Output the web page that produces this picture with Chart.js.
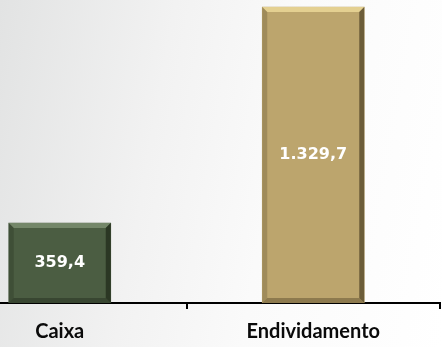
<!DOCTYPE html>
<html>
<head>
<meta charset="utf-8">
<script src="https://cdn.jsdelivr.net/npm/chart.js@4/dist/chart.umd.min.js"></script>
<style>
  html, body { margin: 0; padding: 0; }
  body { width: 442px; height: 347px; overflow: hidden; position: relative;
         background: linear-gradient(100deg, #e2e3e3 0%, #f2f2f2 35%, #fafafa 60%, #ffffff 100%); }
  /* first category starts left of the visible frame, as in the source slide */
  #c { position: absolute; left: -67px; top: 0; }
</style>
</head>
<body>
<canvas id="c" width="509" height="357"></canvas>
<script>
// Caixa vs Endividamento (R$ mi)
const categories = ["Caixa", "Endividamento"];
const values = [359.4, 1329.7];
const valueLabels = ["359,4", "1.329,7"];
const barColors = ["#4b5d42", "#bca56d"];
const edgeLight = ["#7e9273", "#eedb9a"];
const edgeDark = ["#26301f", "#5e5030"];

// value text inside each bar + a simple bevel on the bar edges
const barDecor = {
  id: "barDecor",
  afterDatasetsDraw(chart) {
    const ctx = chart.ctx;
    const meta = chart.getDatasetMeta(0);
    meta.data.forEach((bar, i) => {
      const { x, y, width, base } = bar.getProps(["x", "y", "width", "base"], true);
      const l = x - width / 2, r = x + width / 2, b = 5;
      ctx.save();
      ctx.fillStyle = edgeLight[i];
      ctx.globalAlpha = 0.8;
      ctx.beginPath();
      ctx.moveTo(l, y); ctx.lineTo(r, y); ctx.lineTo(r - b, y + b); ctx.lineTo(l + b, y + b);
      ctx.closePath(); ctx.fill();
      ctx.fillStyle = edgeDark[i];
      ctx.globalAlpha = 0.85;
      ctx.beginPath();
      ctx.moveTo(r, y); ctx.lineTo(r, base); ctx.lineTo(r - b, base - b); ctx.lineTo(r - b, y + b);
      ctx.closePath(); ctx.fill();
      ctx.globalAlpha = 0.5;
      ctx.beginPath();
      ctx.moveTo(l, base); ctx.lineTo(r, base); ctx.lineTo(r - b, base - b); ctx.lineTo(l + b, base - b);
      ctx.closePath(); ctx.fill();
      ctx.globalAlpha = 0.3;
      ctx.beginPath();
      ctx.moveTo(l, y); ctx.lineTo(l + b, y + b); ctx.lineTo(l + b, base - b); ctx.lineTo(l, base);
      ctx.closePath(); ctx.fill();
      ctx.restore();

      ctx.save();
      ctx.fillStyle = "#ffffff";
      ctx.font = "bold 16px 'DejaVu Sans'";
      ctx.textAlign = "center";
      ctx.textBaseline = "middle";
      ctx.fillText(valueLabels[i], x, (y + base) / 2);
      ctx.restore();
    });
  },
};

new Chart(document.getElementById("c"), {
  type: "bar",
  data: {
    labels: categories,
    datasets: [{ data: values, backgroundColor: barColors, barThickness: 102 }],
  },
  options: {
    responsive: false, animation: false,
    layout: { padding: { left: 0, right: 2, top: 0, bottom: 2 } },
    plugins: { legend: { display: false }, tooltip: { enabled: false } },
    scales: {
      x: {
        border: { display: true, color: "#000000", width: 2 },
        grid: { display: true, drawOnChartArea: false, drawTicks: true, tickLength: 6, color: "#000000", lineWidth: 2, offset: true },
        ticks: { color: "#0a0a0a", font: { family: "Lato", weight: "bold", size: 20 }, padding: 11 },
      },
      y: { display: false, min: 0, max: 1361 },
    },
  },
  plugins: [barDecor],
});
</script>
</body>
</html>
